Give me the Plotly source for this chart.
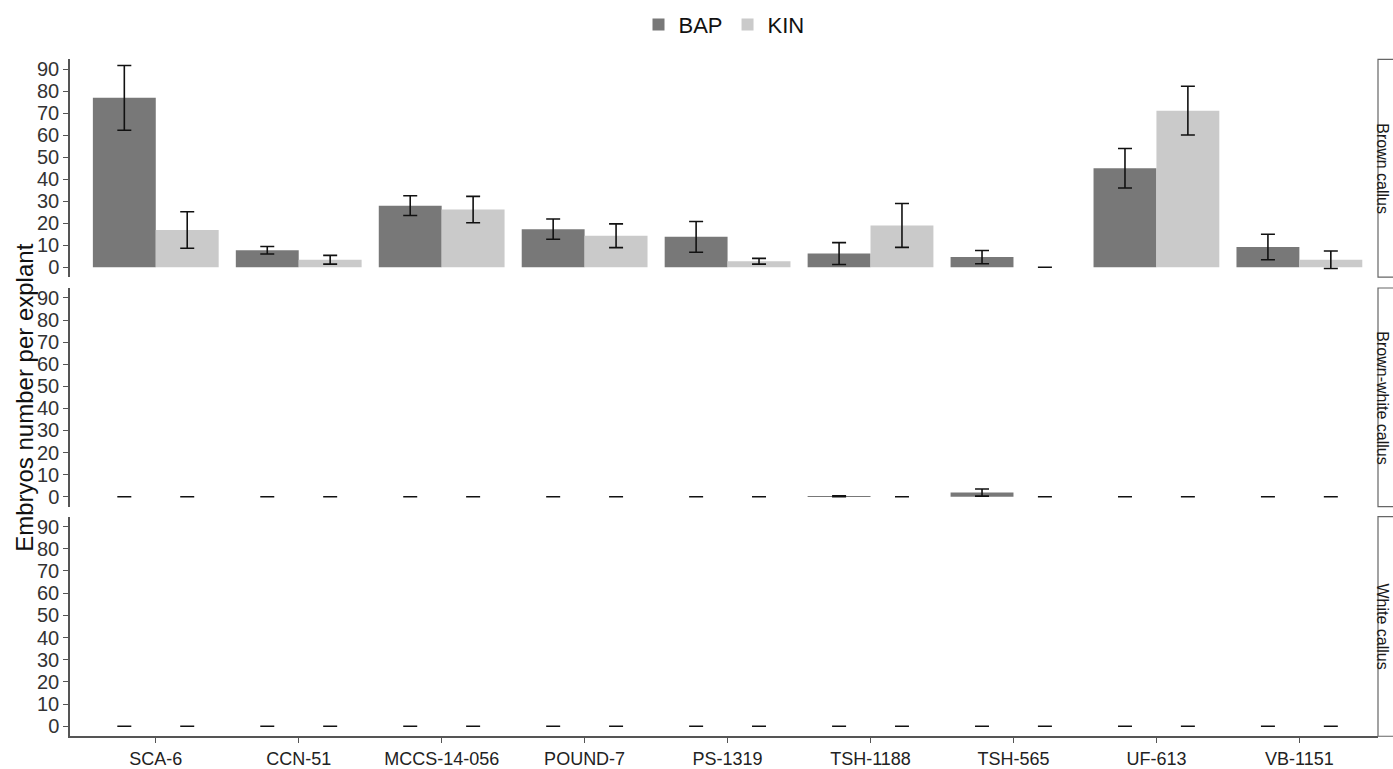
import plotly.graph_objects as go
from plotly.subplots import make_subplots

cultivars = ["SCA-6", "CCN-51", "MCCS-14-056", "POUND-7", "PS-1319",
             "TSH-1188", "TSH-565", "UF-613", "VB-1151"]
panels = ["Brown callus", "Brown-white callus", "White callus"]
treatments = ["BAP", "KIN"]
y_ticks = [0, 10, 20, 30, 40, 50, 60, 70, 80, 90]

# Brown callus
brown_bap = [77.0, 7.7, 28.0, 17.3, 13.8, 6.2, 4.6, 45.0, 9.2]
brown_bap_se = [14.7, 1.7, 4.5, 4.6, 7.0, 5.0, 3.0, 9.0, 5.8]
brown_kin = [16.9, 3.4, 26.2, 14.3, 2.7, 19.0, 0.0, 71.2, 3.4]
brown_kin_se = [8.3, 2.0, 6.0, 5.4, 1.3, 10.0, 0.0, 11.1, 4.0]
# Brown-white callus
bw_bap = [0, 0, 0, 0, 0, 0.2, 1.9, 0, 0]
bw_bap_se = [0, 0, 0, 0, 0, 0.2, 1.6, 0, 0]
bw_kin = [0, 0, 0, 0, 0, 0, 0, 0, 0]
bw_kin_se = [0, 0, 0, 0, 0, 0, 0, 0, 0]
# White callus
white_bap = [0, 0, 0, 0, 0, 0, 0, 0, 0]
white_bap_se = [0, 0, 0, 0, 0, 0, 0, 0, 0]
white_kin = [0, 0, 0, 0, 0, 0, 0, 0, 0]
white_kin_se = [0, 0, 0, 0, 0, 0, 0, 0, 0]

data = [
    [(brown_bap, brown_bap_se), (brown_kin, brown_kin_se)],
    [(bw_bap, bw_bap_se), (bw_kin, bw_kin_se)],
    [(white_bap, white_bap_se), (white_kin, white_kin_se)],
]
colors = {"BAP": "#787878", "KIN": "#cacaca"}

W, H = 1393, 769
FONT = "Liberation Sans, Arial, Helvetica, sans-serif"

fig = make_subplots(rows=3, cols=1, shared_xaxes=True, vertical_spacing=0.01)

for r, panel in enumerate(data, start=1):
    for t, (vals, se) in zip(treatments, panel):
        fig.add_trace(go.Bar(
            x=cultivars, y=vals, name=t, legendgroup=t,
            showlegend=(r == 1),
            marker=dict(color=colors[t], line=dict(width=0)),
            error_y=dict(type="data", array=se, visible=True,
                         color="#111111", thickness=1.6, width=7),
        ), row=r, col=1)

# panel pixel extents (top, bottom)
panel_px = [(59, 279), (290, 511), (521, 743)]
x0_px, x1_px = 70, 1378

for i, (top, bot) in enumerate(panel_px, start=1):
    ysfx = "" if i == 1 else str(i)
    fig.layout["yaxis" + ysfx].update(
        domain=[(H - bot) / H, (H - top) / H],
        range=[-4.5, 94.5], tickvals=y_ticks,
        showgrid=False, zeroline=False,
        showline=True, linecolor="#555555", linewidth=1.5,
        ticks="outside", ticklen=5, tickcolor="#555555", tickwidth=1.2,
        tickfont=dict(family=FONT, size=20, color="#333333"),
    )
    fig.layout["xaxis" + ysfx].update(
        domain=[x0_px / W, x1_px / W],
        range=[-0.6, 8.55],
        showgrid=False, zeroline=False,
        showline=(i == 3), linecolor="#555555", linewidth=1.5,
        ticks="outside" if i == 3 else "", ticklen=5, tickcolor="#555555",
        showticklabels=(i == 3),
        tickfont=dict(family=FONT, size=18, color="#222222"),
    )
    # strip box (runs off the right edge like the reference)
    fig.add_shape(type="rect", xref="paper", yref="paper",
                  x0=x1_px / W, x1=1.05,
                  y0=(H - bot) / H, y1=(H - top) / H,
                  line=dict(color="#666666", width=1.2),
                  fillcolor="rgba(0,0,0,0)", layer="above")
    fig.add_annotation(text=panels[i - 1], xref="paper", yref="paper",
                       x=1383 / W, y=(H - (top + bot) / 2) / H,
                       xanchor="center", yanchor="middle", textangle=90,
                       showarrow=False, borderpad=0,
                       font=dict(family=FONT, size=16, color="#1a1a1a"))

fig.add_annotation(text="Embryos number per explant", xref="paper", yref="paper",
                   x=25 / W, y=(H - 401) / H, xanchor="center", yanchor="middle",
                   textangle=-90, showarrow=False,
                   font=dict(family=FONT, size=24, color="#111111"))

fig.update_layout(
    width=W, height=H, autosize=False,
    margin=dict(l=0, r=0, t=0, b=0),
    paper_bgcolor="white", plot_bgcolor="white",
    barmode="group", bargap=0.12, bargroupgap=0.0,
    legend=dict(orientation="h", x=724 / W, xanchor="center",
                y=(H - 24) / H, yanchor="middle",
                font=dict(family=FONT, size=22, color="#111111"),
                itemwidth=30, tracegroupgap=0),
    font=dict(family=FONT),
)

fig.write_html("out.html")
